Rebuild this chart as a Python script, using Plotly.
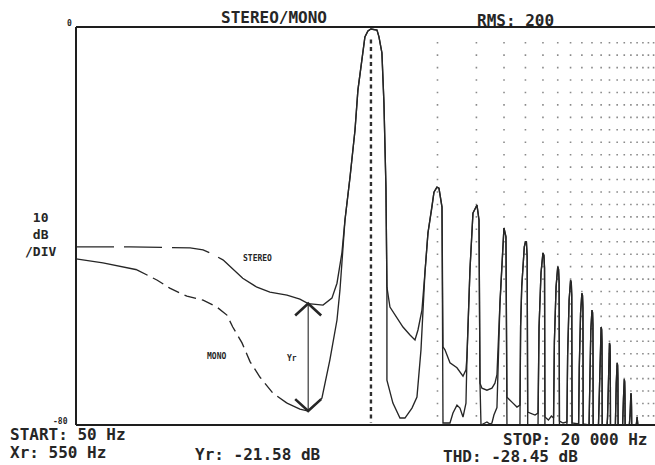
import math
import plotly.graph_objects as go

# ---------------- data (Hz, dB) ----------------
stereo_freq = [46.3, 81.2, 152, 174, 187, 214, 237, 263, 305, 349, 417, 477, 520, 607, 666, 702,
               739, 763, 804, 847, 873, 911, 939, 969, 1000, 1065, 1087, 1121, 1145, 1169, 1181,
               1219, 1311, 1396, 1502, 1582, 1632, 1701, 1755, 1811, 1888, 1928, 1989, 2031, 2096, 2118,
               2162, 2278, 2450, 2609, 2691, 2719, 2805, 2894, 3018, 3082, 3114,
               3179, 3348, 3527, 3639, 3716, 3834, 3956, 3997, 4081, 4124,
               4390, 4577, 4722, 4755, 4810, 4888, 4940, 5000, 5050, 5090, 5120,
               5524, 5700, 5760, 5880, 6000, 6060, 6100, 6125,
               6350, 6550, 6700, 6760, 6880, 7000, 7060, 7100, 7125,
               7400, 7700, 7760, 7880, 8000, 8060, 8100, 8125,
               8700, 8760, 8880, 9000, 9060, 9100, 9125,
               9700, 9760, 9880, 10000, 10060, 10100, 10125,
               10700, 10760, 10880, 11000, 11060, 11100, 11125,
               11700, 11760, 11880, 12000, 12060, 12100, 12125,
               12700, 12760, 12880, 13000, 13060, 13100, 13125,
               13700, 13760, 13880, 14000, 14060, 14100, 14125,
               14700, 14760, 14880, 15000, 15060, 15100, 15125,
               15700, 15880, 16000, 16060, 16125, 19280]
stereo_db = [-44.2, -44.2, -44.4, -44.8, -45.4, -46.8, -48.6, -50.5, -52.3, -53.3, -53.9, -54.7, -55.6, -55.9, -54.5, -51.5,
             -45.4, -38.8, -30.2, -20.7, -12.7, -6.0, -2.0, -0.8, -0.4, -0.6, -2.0, -5.2, -15.3, -32.2, -52.3,
             -56.3, -58.5, -60.3, -61.9, -62.9, -60.9, -56.9, -49.4, -41.4, -36.2, -33.2, -32.2, -32.4, -36.2, -64.3,
             -64.9, -67.5, -68.5, -70.2, -68.9, -66.3, -48.8, -37.4, -35.8, -38.8, -71.6,
             -72.6, -73.0, -72.6, -71.6, -69.9, -55.5, -42.2, -40.4, -42.2, -74.4,
             -75.6, -76.4, -76.0, -60.2, -52.2, -47.2, -44.2, -43.2, -43.2, -46.2, -77.4,
             -78.0, -77.6, -60.4, -49.4, -45.4, -45.9, -48.4, -78.4,
             -79.0, -78.2, -78.6, -63.2, -52.2, -48.2, -48.7, -51.2, -79.2,
             -79.6, -79.4, -65.9, -54.9, -50.9, -51.4, -53.9, -79.6,
             -79.8, -68.5, -57.5, -53.5, -54.0, -56.5, -79.8,
             -80.0, -71.9, -60.9, -56.9, -57.4, -59.9, -80.0,
             -80.0, -75.3, -64.3, -60.3, -60.8, -63.3, -80.0,
             -80.0, -78.5, -67.5, -63.5, -64.0, -66.5, -80.0,
             -80.0, -80.0, -71.5, -67.5, -68.0, -70.5, -80.0,
             -80.0, -80.0, -74.8, -70.8, -71.3, -73.8, -80.0,
             -80.0, -80.0, -77.6, -73.6, -74.1, -76.6, -80.0,
             -80.0, -79.8, -78.4, -78.9, -80.0, -80.0]

mono_freq = [46.3, 61.3, 87.3, 108, 123, 147, 174, 201, 223, 237, 261, 284, 315, 360, 417, 477, 520,
             600, 652, 702, 724, 763, 804, 847, 873, 911, 939, 969, 1000, 1065, 1087, 1121, 1145, 1169, 1181,
             1181, 1257, 1353, 1425, 1533, 1615, 1684, 1719, 1755, 1811, 1888, 1928, 1989, 2031, 2096, 2118,
             2118, 2278, 2350, 2450, 2527, 2609, 2691, 2719, 2805, 2894, 3018, 3082, 3114,
             3147, 3348, 3450, 3527, 3600, 3716, 3834, 3956, 3997, 4081, 4124,
             4124, 4722, 4755, 4810, 4888, 4940, 5000, 5050, 5090, 5120,
             5700, 5760, 5880, 6000, 6060, 6100, 6125,
             6700, 6760, 6880, 7000, 7060, 7100, 7125,
             7700, 7760, 7880, 8000, 8060, 8100, 8125,
             8700, 8760, 8880, 9000, 9060, 9100, 9125,
             9700, 9760, 9880, 10000, 10060, 10100, 10125,
             10700, 10760, 10880, 11000, 11060, 11100, 11125,
             11700, 11760, 11880, 12000, 12060, 12100, 12125,
             12700, 12760, 12880, 13000, 13060, 13100, 13125,
             13700, 13760, 13880, 14000, 14060, 14100, 14125,
             14700, 14760, 14880, 15000, 15060, 15100, 15125,
             15700, 15880, 16000, 16060, 16125, 19280]
mono_db = [-46.6, -47.4, -48.8, -50.9, -52.5, -54.1, -54.9, -56.3, -57.9, -60.3, -63.5, -67.3, -70.4, -73.6, -75.6, -76.8, -77.2,
           -74.6, -66.9, -58.9, -52.9, -38.8, -30.2, -20.7, -12.7, -6.0, -2.0, -0.8, -0.4, -0.6, -2.0, -5.2, -15.3, -32.2, -52.3,
           -71.0, -75.6, -78.6, -78.6, -76.6, -74.4, -64.9, -57.9, -49.4, -41.4, -36.2, -33.2, -32.2, -32.4, -36.2, -64.3,
           -79.6, -79.6, -77.6, -76.0, -76.6, -78.4, -75.6, -66.3, -48.8, -37.4, -35.8, -38.8, -71.6,
           -80.0, -79.4, -79.8, -79.6, -78.0, -76.5, -55.5, -42.2, -40.4, -42.2, -74.4,
           -80.0, -80.0, -60.2, -52.2, -47.2, -44.2, -43.2, -43.2, -46.2, -80.0,
           -80.0, -60.4, -49.4, -45.4, -45.9, -48.4, -80.0,
           -80.0, -63.2, -52.2, -48.2, -48.7, -51.2, -80.0,
           -80.0, -65.9, -54.9, -50.9, -51.4, -53.9, -80.0,
           -80.0, -68.5, -57.5, -53.5, -54.0, -56.5, -80.0,
           -80.0, -71.9, -60.9, -56.9, -57.4, -59.9, -80.0,
           -80.0, -75.3, -64.3, -60.3, -60.8, -63.3, -80.0,
           -80.0, -78.5, -67.5, -63.5, -64.0, -66.5, -80.0,
           -80.0, -80.0, -71.5, -67.5, -68.0, -70.5, -80.0,
           -80.0, -80.0, -74.8, -70.8, -71.3, -73.8, -80.0,
           -80.0, -80.0, -77.6, -73.6, -74.1, -76.6, -80.0,
           -80.0, -79.8, -78.4, -78.9, -80.0, -80.0]

fundamental_hz = 1000
harmonic_hz = [2000, 3000, 4000, 5000, 6000, 7000, 8000, 9000, 10000, 11000, 12000, 13000,
               14000, 15000, 16000, 17000, 18000, 19000]
marker_hz = 520
marker_db = [-55.6, -77.2]          # stereo / mono at the Xr cursor

x_range_hz = [46.3, 19280]
y_range_db = [-80.4, 0.4]
y_top_db, y_bottom_db = 0, -80

# dash split indices (where the plotter pen switched style)
stereo_dash_end = 6                 # first 6 points long-dashed
mono_solid_end, mono_dash_end = 3, 15

INK = "#262626"
FONT = "DejaVu Sans Mono"

# ---------------- figure ----------------
W, H = 655, 465
L, R, T, B = 76, 0, 25, 38
fig = go.Figure()

# harmonic grid columns (dotted)
for f in harmonic_hz:
    fig.add_trace(go.Scatter(x=[f, f], y=[-3.0, y_bottom_db], mode="lines",
                             line=dict(color="#8a8a8a", width=1.6, dash="1.6px,10.84px"),
                             hoverinfo="skip", showlegend=False))
# fundamental marker column (heavy dashes)
fig.add_trace(go.Scatter(x=[fundamental_hz, fundamental_hz], y=[-2.5, -79.5], mode="lines",
                         line=dict(color="#2e2e2e", width=2.4, dash="4px,3.5px"),
                         hoverinfo="skip", showlegend=False))

def seg(xs, ys, dash, w=1.35):
    fig.add_trace(go.Scatter(x=xs, y=ys, mode="lines",
                             line=dict(color=INK, width=w, dash=dash),
                             hoverinfo="skip", showlegend=False))

# stereo
seg(stereo_freq[:stereo_dash_end], stereo_db[:stereo_dash_end], "38px,10px")
seg(stereo_freq[stereo_dash_end - 1:], stereo_db[stereo_dash_end - 1:], "solid")
# mono
seg(mono_freq[:mono_solid_end], mono_db[:mono_solid_end], "solid")
seg(mono_freq[mono_solid_end - 1:mono_dash_end], mono_db[mono_solid_end - 1:mono_dash_end], "12px,6px")
seg(mono_freq[mono_dash_end - 1:], mono_db[mono_dash_end - 1:], "solid")

# Yr cursor: vertical line with open chevrons at each end
arm_f, arm_db = 1.145, 2.4
seg([marker_hz, marker_hz], marker_db, "solid", 1.1)
seg([marker_hz / arm_f, marker_hz, marker_hz * arm_f],
    [marker_db[0] - arm_db, marker_db[0], marker_db[0] - arm_db], "solid", 2.6)
seg([marker_hz / arm_f, marker_hz, marker_hz * arm_f],
    [marker_db[1] + arm_db, marker_db[1], marker_db[1] + arm_db], "solid", 2.6)

# frame (top, bottom, left)
frame = dict(color="#1e1e1e", width=2)
fig.add_shape(type="line", xref="x domain", yref="y", x0=0, x1=1, y0=y_top_db, y1=y_top_db, line=frame)
fig.add_shape(type="line", xref="x domain", yref="y", x0=0, x1=1, y0=y_bottom_db, y1=y_bottom_db, line=frame)
fig.add_shape(type="line", xref="x domain", yref="y", x0=0, x1=0, y0=y_bottom_db, y1=y_top_db, line=frame)

# ---------------- text ----------------
pw, ph = W - L - R, H - T - B
def px(x):
    return (x - L) / pw
def py(y):
    return (H - B - y) / ph

def txt(s, x, y, size=16, anchor="left", bold=True):
    fig.add_annotation(text=s, xref="paper", yref="paper", x=px(x), y=py(y),
                       xanchor=anchor, yanchor="middle", showarrow=False,
                       font=dict(family=FONT, size=size, color=INK,
                                 weight="bold" if bold else "normal"))

txt("STEREO/MONO", 274, 17, 16, "center")
txt("RMS: 200", 515, 20, 16, "center")
txt("0", 74, 24, 8, "right")
txt("-80", 70, 421, 8, "right")
txt("10<br>dB<br>/DIV", 40, 234, 13, "center")
txt("START: 50 Hz", 8, 434)
txt("Xr: 550 Hz", 8, 452)
txt("Yr: -21.58 dB", 193, 454)
txt("STOP: 20 000 Hz", 501, 440)
txt("THD: -28.45 dB", 441, 456)

# small in-plot curve labels (placed in data units)
curve_labels = [("STEREO", 308, -46.6), ("MONO", 201, -66.3), ("Yr", 439, -66.7)]
for s, f, d in curve_labels:
    fig.add_annotation(text=s, x=math.log10(f), y=d, xref="x", yref="y", showarrow=False,
                       xanchor="center", yanchor="middle",
                       font=dict(family=FONT, size=8, color=INK, weight="bold"))

fig.update_xaxes(type="log", range=[math.log10(x_range_hz[0]), math.log10(x_range_hz[1])],
                 showgrid=False, zeroline=False, showline=False, showticklabels=False, ticks="")
fig.update_yaxes(range=y_range_db, showgrid=False, zeroline=False, showline=False,
                 showticklabels=False, ticks="")
fig.update_layout(width=W, height=H, margin=dict(l=L, r=R, t=T, b=B, pad=0),
                  paper_bgcolor="white", plot_bgcolor="white", showlegend=False)

fig.write_html("out.html", config={"displayModeBar": False, "staticPlot": True},
               post_script="document.body.style.margin='0';document.body.style.overflow='hidden';")
